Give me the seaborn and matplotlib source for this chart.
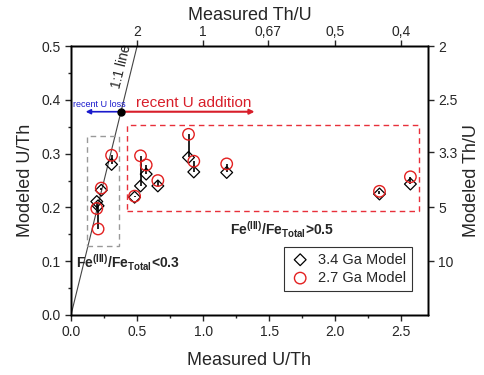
import numpy as np
import pandas as pd
import seaborn as sns
import matplotlib.pyplot as plt
from matplotlib.patches import Rectangle

# measured U/Th and the two model outputs
measured = [0.195, 0.205, 0.229, 0.307, 0.481, 0.526, 0.569, 0.657, 0.889, 0.929, 1.178, 2.334, 2.568]
model_34 = [0.211, 0.203, 0.232, 0.280, 0.219, 0.240, 0.262, 0.240, 0.293, 0.266, 0.265, 0.225, 0.2435]
model_27 = [0.198, 0.160, 0.236, 0.297, 0.221, 0.296, 0.279, 0.250, 0.336, 0.286, 0.281, 0.230, 0.257]

top_ticks = [2, 1, 0.67, 0.5, 0.4]
top_labels = ['2', '1', '0,67', '0,5', '0,4']
right_ticks = [2, 2.5, 3.3, 5, 10]
right_labels = ['2', '2.5', '3.3', '5', '10']

sns.set_style('ticks')
plt.rcParams['font.family'] = ['Liberation Sans', 'DejaVu Sans']
plt.rcParams['mathtext.fontset'] = 'custom'
plt.rcParams['mathtext.rm'] = 'Liberation Sans'
plt.rcParams['mathtext.bf'] = 'Liberation Sans:bold'

df = pd.DataFrame({'measured': measured, 'm34': model_34, 'm27': model_27})

fig = plt.figure(figsize=(4.84, 3.75), dpi=100)
ax = fig.add_axes([0.1467, 0.16, 0.7373, 0.717])

# 1:1 line
ax.plot([0, 0.6], [0, 0.6], color='#444444', lw=0.8, zorder=1)
ax.text(0.385, 0.462, '1:1 line', rotation=76, fontsize=10, ha='center', va='center')

# boxes
ax.add_patch(Rectangle((0.118, 0.128), 0.242, 0.205, fill=False, ls=(0, (4, 3)), color='#999999', lw=1))
ax.add_patch(Rectangle((0.425, 0.194), 2.211, 0.159, fill=False, ls=(0, (4, 3)), color='#e8303a', lw=1))

# connecting lines between models
ax.vlines(df['measured'], df[['m34', 'm27']].min(axis=1), df[['m34', 'm27']].max(axis=1),
          color='black', lw=1.2, zorder=2)

sns.scatterplot(data=df, x='measured', y='m34', marker='D', s=36, facecolor='none',
                edgecolor='black', linewidth=0.9, label='3.4 Ga Model', ax=ax, zorder=3)
sns.scatterplot(data=df, x='measured', y='m27', marker='o', s=68, facecolor='none',
                edgecolor='#e32020', linewidth=1.0, label='2.7 Ga Model', ax=ax, zorder=3)

# arrows
ax.annotate('', xy=(0.09, 0.378), xytext=(0.38, 0.378),
            arrowprops=dict(arrowstyle='-|>', color='#1a1acc', lw=1.2, mutation_scale=7))
ax.annotate('', xy=(1.41, 0.378), xytext=(0.38, 0.378),
            arrowprops=dict(arrowstyle='-|>', color='#d81e2a', lw=1.5, mutation_scale=7))
ax.plot([0.38], [0.378], 'o', color='black', ms=5, zorder=5)
ax.text(0.015, 0.392, 'recent U loss', color='#1a1acc', fontsize=6.5, va='center')
ax.text(0.49, 0.394, 'recent U addition', color='#d81e2a', fontsize=11, va='center')

ax.text(0.04, 0.097, r'Fe$^{\mathbf{(III)}}$/Fe$_{\mathbf{Total}}$<0.3', fontsize=10,
        fontweight='bold', va='center')
ax.text(1.20, 0.158, r'Fe$^{\mathbf{(III)}}$/Fe$_{\mathbf{Total}}$>0.5', fontsize=10,
        fontweight='bold', va='center')

ax.set_xlim(0, 2.7)
ax.set_ylim(0, 0.5)
ax.set_xticks(np.arange(0, 2.6, 0.5))
ax.set_xticks(np.arange(0.25, 2.7, 0.5), minor=True)
ax.set_yticks(np.arange(0, 0.51, 0.1))
ax.set_yticks(np.arange(0.05, 0.5, 0.1), minor=True)
ax.xaxis.set_major_formatter(plt.FuncFormatter(lambda v, p: f'{v:.1f}'))
ax.yaxis.set_major_formatter(plt.FuncFormatter(lambda v, p: f'{v:.1f}'))
ax.tick_params(which='both', direction='out', width=1, labelsize=10)
ax.tick_params(which='major', length=4)
ax.tick_params(which='minor', length=2.5)
ax.set_xlabel('Measured U/Th', fontsize=13, labelpad=9)
ax.set_ylabel('Modeled U/Th', fontsize=13, labelpad=5)

leg = ax.legend(loc='lower right', bbox_to_anchor=(0.975, 0.063), frameon=True, fancybox=False,
                edgecolor='black', fontsize=10.5, handletextpad=0.5, handlelength=1.4,
                borderpad=0.4, labelspacing=0.3)
leg.get_frame().set_linewidth(0.8)

# top axis: Th/U
axt = ax.twiny()
axt.set_xlim(ax.get_xlim())
axt.set_xticks([1 / v for v in top_ticks])
axt.set_xticklabels(top_labels)
axt.tick_params(direction='out', length=4, width=1, labelsize=10, pad=1)
axt.set_xlabel('Measured Th/U', fontsize=13, labelpad=4)

# right axis: Th/U
axr = ax.twinx()
axr.set_ylim(ax.get_ylim())
axr.set_yticks([1 / v for v in right_ticks])
axr.set_yticklabels(right_labels)
axr.tick_params(direction='out', length=4, width=1, labelsize=10)
axr.set_ylabel('Modeled Th/U', fontsize=13)

for a in (ax, axt, axr):
    for s in a.spines.values():
        s.set_visible(True)
        s.set_linewidth(1)
        s.set_color('black')

fig.savefig('out.png', dpi=100)
